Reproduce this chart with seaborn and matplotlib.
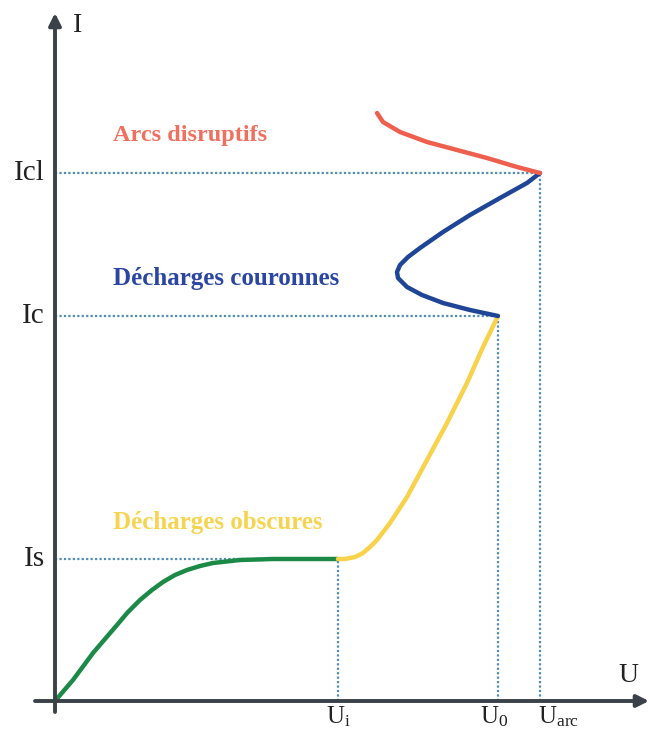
import matplotlib
matplotlib.use("Agg")
import matplotlib.pyplot as plt
import seaborn as sns
import pandas as pd

sns.set_style("white")
plt.rcParams["font.family"] = ["Liberation Serif", "DejaVu Serif"]
plt.rcParams["mathtext.fontset"] = "custom"
plt.rcParams["mathtext.rm"] = "Liberation Serif"
plt.rcParams["mathtext.it"] = "Liberation Serif"

# characteristic points (U, I)
Ui, U0, Uarc = 2.83, 4.43, 4.85
Is, Ic, Icl = 1.42, 3.85, 5.28

# curves
green_u = [0.00, 0.18, 0.38, 0.62, 0.73, 0.85, 0.97, 1.08, 1.20, 1.32, 1.45, 1.58, 1.85, 2.18, 2.83]
green_i = [0.00, 0.21, 0.48, 0.76, 0.89, 1.01, 1.11, 1.19, 1.26, 1.31, 1.35, 1.38, 1.41, 1.42, 1.42]

yellow_u = [2.83, 2.90, 3.00, 3.08, 3.15, 3.22, 3.35, 3.52, 3.72, 3.92, 4.12, 4.28, 4.43]
yellow_i = [1.42, 1.42, 1.44, 1.48, 1.54, 1.61, 1.78, 2.04, 2.41, 2.78, 3.18, 3.54, 3.85]

blue_u = [4.43, 4.15, 3.88, 3.67, 3.52, 3.43, 3.42, 3.45, 3.53, 3.65, 3.88, 4.15, 4.45, 4.72, 4.85]
blue_i = [3.85, 3.91, 3.98, 4.06, 4.14, 4.23, 4.29, 4.36, 4.44, 4.53, 4.69, 4.86, 5.03, 5.18, 5.28]

red_u = [4.85, 4.62, 4.32, 4.02, 3.72, 3.45, 3.28, 3.22]
red_i = [5.28, 5.34, 5.43, 5.51, 5.59, 5.69, 5.79, 5.88]

fig = plt.figure(figsize=(6.5, 7.29), dpi=100)
ax = fig.add_axes([0, 0, 1, 1])
ax.set_xlim(-0.55, 5.95)
ax.set_ylim(-0.28, 7.01)
ax.axis("off")

guide = dict(color="#4f8db5", lw=1.6, linestyle=(0, (1, 1)))
ax.plot([0, Uarc], [Icl, Icl], **guide)
ax.plot([0, U0], [Ic, Ic], **guide)
ax.plot([0, Ui], [Is, Is], **guide)
ax.plot([Uarc, Uarc], [0, Icl], **guide)
ax.plot([U0, U0], [0, Ic], **guide)
ax.plot([Ui, Ui], [0, Is], **guide)

curves = [
    (green_u, green_i, "#1b8a47"),
    (yellow_u, yellow_i, "#f7d24a"),
    (blue_u, blue_i, "#1f4597"),
    (red_u, red_i, "#ee5f4e"),
]
for u, i, c in curves:
    d = pd.DataFrame({"U": u, "I": i})
    sns.lineplot(data=d, x="U", y="I", sort=False, estimator=None, color=c,
                 lw=3.2, ax=ax, solid_capstyle="round", solid_joinstyle="round")

# axes with arrows
arrow = dict(arrowstyle="-|>", color="#3a4148", lw=2.8, mutation_scale=18,
             shrinkA=0, shrinkB=0)
ax.annotate("", xy=(5.94, 0), xytext=(-0.20, 0), arrowprops=arrow,
            annotation_clip=False)
ax.annotate("", xy=(0, 6.88), xytext=(0, -0.11), arrowprops=arrow,
            annotation_clip=False)

ax.text(0.23, 6.75, "I", fontsize=20, ha="center", va="center", color="#222222")
ax.text(5.73, 0.26, "U", fontsize=20, ha="center", va="center", color="#222222")

for val, lab in [(Icl, "Icl"), (Ic, "Ic"), (Is, "Is")]:
    ax.text(-0.10, val, lab, fontsize=21, ha="right", va="center", color="#222222")

ax.text(Ui, -0.03, r"U$_\mathrm{i}$", fontsize=18, ha="center", va="top", color="#222222")
ax.text(U0 - 0.04, -0.03, r"U$_\mathrm{0}$", fontsize=18, ha="center", va="top", color="#222222")
ax.text(Uarc - 0.02, -0.03, r"U$_\mathrm{arc}$", fontsize=18, ha="left", va="top", color="#222222")

ax.text(0.58, 5.66, "Arcs disruptifs", fontsize=17.5, fontweight="bold",
        color="#f0705f", va="center")
ax.text(0.58, 4.22, "Décharges couronnes", fontsize=18, fontweight="bold",
        color="#2a46a0", va="center")
ax.text(0.58, 1.79, "Décharges obscures", fontsize=18, fontweight="bold",
        color="#f7d44f", va="center")

fig.savefig("out.png", dpi=100)
